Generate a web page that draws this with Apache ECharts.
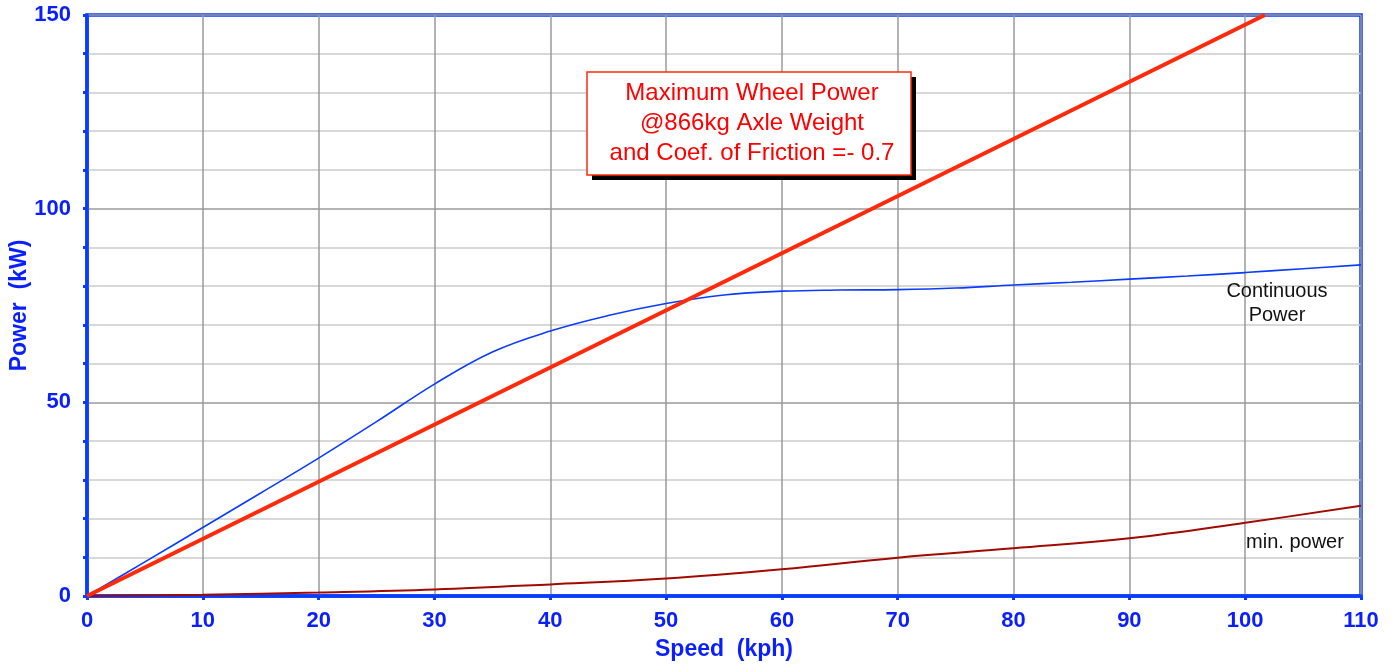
<!DOCTYPE html>
<html>
<head>
<meta charset="utf-8">
<script src="https://cdn.jsdelivr.net/npm/echarts@6/dist/echarts.min.js"></script>
<style>html,body{margin:0;padding:0;background:#fff}#c{width:1396px;height:666px}</style>
</head>
<body>
<div id="c"></div>
<script>
// Data
var maxWheelPower = [[0, 0], [101.7, 150]];
var continuousPower = [[0,0],[5,8.8],[10,17.7],[15,26.6],[20,35.6],[25,45.0],[30,54.7],[35,63.0],[40,68.4],[45,72.4],[50,75.5],[55,77.7],[60,78.7],[65,79.0],[70,79.1],[75,79.5],[80,80.3],[85,81.0],[90,81.8],[95,82.6],[100,83.5],[105,84.5],[110,85.5]];
var minPower = [[0,0],[10,0.3],[20,0.9],[30,1.7],[40,3.0],[50,4.5],[60,6.9],[70,9.9],[80,12.3],[90,14.9],[100,18.9],[110,23.3]];
var xTicks = {min: 0, max: 110, interval: 10};
var yTicks = {min: 0, max: 150, interval: 50};
var annotationLines = ['Maximum Wheel Power', '@866kg Axle Weight', 'and Coef. of Friction =- 0.7'];

var BLUE = '#0a3cff', LBLUE = '#0a1fff';
var chart = echarts.init(document.getElementById('c'), null, {renderer: 'canvas'});
var font = 'Liberation Sans, Helvetica, Arial, sans-serif';
chart.setOption({
  animation: false,
  grid: {left: 87, right: 35, top: 15, bottom: 70, show: true, borderColor: BLUE, borderWidth: 3.5, backgroundColor: 'transparent', containLabel: false, outerBoundsMode: 'none'},
  xAxis: {
    type: 'value', min: xTicks.min, max: xTicks.max, interval: xTicks.interval,
    name: 'Speed  (kph)', nameLocation: 'middle', nameGap: 42, nameMoveOverlap: false,
    nameTextStyle: {color: LBLUE, fontWeight: 'bold', fontSize: 23, fontFamily: font},
    axisLine: {show: true, lineStyle: {color: BLUE, width: 3.5}},
    axisTick: {show: true, length: 4, lineStyle: {color: BLUE, width: 3}},
    axisLabel: {color: LBLUE, fontWeight: 'bold', fontSize: 22, fontFamily: font, margin: 14},
    splitLine: {show: true, lineStyle: {color: '#9a9a9a', width: 1.5}}
  },
  yAxis: {
    type: 'value', min: yTicks.min, max: yTicks.max, interval: yTicks.interval,
    name: 'Power  (kW)', nameLocation: 'middle', nameGap: 56, nameMoveOverlap: false,
    nameTextStyle: {color: LBLUE, fontWeight: 'bold', fontSize: 23, fontFamily: font},
    axisLine: {show: true, lineStyle: {color: BLUE, width: 3.5}},
    axisTick: {show: true, length: 4, lineStyle: {color: BLUE, width: 3}},
    minorTick: {show: true, splitNumber: 5, length: 4, lineStyle: {color: BLUE, width: 3}},
    axisLabel: {color: LBLUE, fontWeight: 'bold', fontSize: 22, fontFamily: font, margin: 16},
    splitLine: {show: true, lineStyle: {color: '#9a9a9a', width: 1.5}},
    minorSplitLine: {show: true, lineStyle: {color: '#cccccc', width: 1.5}}
  },
  series: [
    {type: 'line', data: minPower, smooth: 0.4, symbol: 'none', lineStyle: {color: '#a00a00', width: 2}, z: 3},
    {type: 'line', data: continuousPower, smooth: 0.4, symbol: 'none', lineStyle: {color: '#0a3cff', width: 1.6}, z: 4},
    {type: 'line', data: maxWheelPower, symbol: 'none', lineStyle: {color: '#ff2a0a', width: 4}, z: 5}
  ],
  graphic: [
    {type: 'rect', shape: {x: 592, y: 77, width: 324, height: 103}, style: {fill: '#000'}, z: 10},
    {type: 'rect', shape: {x: 587, y: 72, width: 324, height: 103}, style: {fill: '#fff', stroke: '#ff2a0a', lineWidth: 1.5}, z: 11},
    {type: 'text', x: 752, y: 123, z: 12, style: {text: annotationLines.join('\n'), fill: '#ff0000', font: '24px ' + font, align: 'center', verticalAlign: 'middle', lineHeight: 30}},
    {type: 'text', x: 1277, y: 303, z: 12, style: {text: 'Continuous\nPower', fill: '#111', font: '20px ' + font, align: 'center', verticalAlign: 'middle', lineHeight: 24}},
    {type: 'text', x: 1295, y: 542, z: 12, style: {text: 'min. power', fill: '#111', font: '20px ' + font, align: 'center', verticalAlign: 'middle'}}
  ]
});
</script>
</body>
</html>
